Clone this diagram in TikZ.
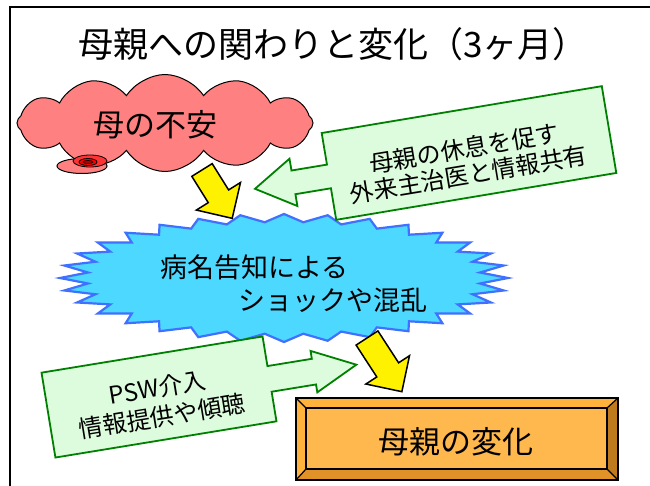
\documentclass[tikz,border=0pt]{standalone}
\usepackage{fontspec}
\setmainfont{Noto Sans CJK JP}
\usetikzlibrary{shapes.symbols,shapes.geometric}
\definecolor{cloudpink}{HTML}{FF8080}
\definecolor{gfill}{HTML}{DDFBDD}
\definecolor{gline}{HTML}{008000}
\definecolor{burstfill}{HTML}{4DD8FF}
\definecolor{burstline}{HTML}{4070FF}
\definecolor{omain}{HTML}{FFB84D}
\definecolor{otop}{HTML}{FFB23C}
\definecolor{oright}{HTML}{C07A1E}
\definecolor{obottom}{HTML}{E09228}
\tikzset{
  greenarrow/.style={draw=gline, fill=gfill, line width=1.8pt, line join=miter},
  yellowarrow/.style={draw=black, fill=yellow, line width=1.5pt, line join=miter},
  label/.style={inner sep=0pt, text=black},
}
\begin{document}
\begin{tikzpicture}[x=1pt,y=-1pt]
\useasboundingbox (0,0) rectangle (650,486);
\fill[white] (0,0) rectangle (650,486);
% frame
\draw[line width=2pt] (10,487) -- (10,7) -- (651,7);
% title
\node[label, font=\fontsize{35}{40}\selectfont] (title) at (333,44) {母親への関わりと変化（3ヶ月）};
% cloud
\draw[fill=cloudpink, line width=1pt] (82,166) ellipse [x radius=25, y radius=7.5];
\node[cloud, cloud puffs=12, cloud puff arc=115, aspect=3.05, draw, fill=cloudpink, line width=1pt,
      minimum width=296pt, minimum height=97pt, inner sep=0pt] (anx) at (165,123) {};
\draw[fill=red!80, line width=0.8pt] (90,161) ellipse [x radius=17, y radius=6];
\draw[fill=red, line width=0.8pt] (88,162) ellipse [x radius=9, y radius=3.5];
\draw[fill=red!70!black, line width=0.6pt] (88,162) ellipse [x radius=5, y radius=1.5];
\node[label, font=\fontsize{31}{34}\selectfont] (anxtext) at (155,125) {母の不安};
% starburst
\draw[fill=burstfill, draw=burstline, line width=2.2pt, line join=miter]
  (508,278) \foreach \i in {1,...,63} { -- ({284+(224-27*mod(\i,2))*cos(\i*5.625)}, {278+(64-8*mod(\i,2))*sin(\i*5.625)}) } -- cycle;
\node[label, font=\fontsize{27}{30}\selectfont, anchor=west] (shock1) at (160,267) {病名告知による};
\node[label, font=\fontsize{27}{30}\selectfont, anchor=east] (shock2) at (428,300) {ショックや混乱};
% yellow arrows
\begin{scope}[shift={(202,170)}, rotate=-58]
\draw[yellowarrow] (0,-12) -- (31,-12) -- (31,-26) -- (57,0) -- (31,26) -- (31,12) -- (0,12) -- cycle;
\end{scope}
\begin{scope}[shift={(367,338)}, rotate=-57]
\draw[yellowarrow] (0,-13) -- (38,-13) -- (38,-26) -- (64,0) -- (38,26) -- (38,13) -- (0,13) -- cycle;
\end{scope}
% green arrow: rest
\begin{scope}[shift={(469,153)}, rotate=9.5]
\draw[greenarrow] (-142,-44) -- (142,-44) -- (142,44) -- (-142,44) -- (-142,12) -- (-178,12) -- (-178,24) -- (-217,0) -- (-178,-24) -- (-178,-12) -- (-142,-12) -- cycle;
\node[label, transform shape, align=center, font=\fontsize{24}{26}\selectfont] (rest) at (-4,8) {母親の休息を促す\\外来主治医と情報共有};
\end{scope}
% green arrow: PSW
\begin{scope}[shift={(159,397)}, rotate=9.3]
\draw[greenarrow] (-112,-43) -- (112,-43) -- (112,-13) -- (157,-13) -- (157,-21) -- (200,0) -- (157,21) -- (157,13) -- (112,13) -- (112,43) -- (-112,43) -- cycle;
\node[label, transform shape, align=center, font=\fontsize{24}{29}\selectfont] (psw) at (0,5) {PSW介入\\情報提供や傾聴};
\end{scope}
% orange bevel box
\fill[omain] (296,398) rectangle (618,480);
\fill[otop] (296,398) -- (618,398) -- (607,408) -- (306,408) -- cycle;
\fill[otop] (296,398) -- (306,408) -- (306,469) -- (296,480) -- cycle;
\fill[oright] (618,398) -- (618,480) -- (607,469) -- (607,408) -- cycle;
\fill[obottom] (296,480) -- (618,480) -- (607,469) -- (306,469) -- cycle;
\draw[line width=1.5pt] (296,398) rectangle (618,480);
\draw[line width=1.5pt] (306,408) rectangle (607,469);
\draw[line width=1.2pt] (296,398) -- (306,408) (618,398) -- (607,408) (618,480) -- (607,469) (296,480) -- (306,469);
\node[label, font=\fontsize{31}{34}\selectfont] (change) at (456,442) {母親の変化};
\end{tikzpicture}
\end{document}
